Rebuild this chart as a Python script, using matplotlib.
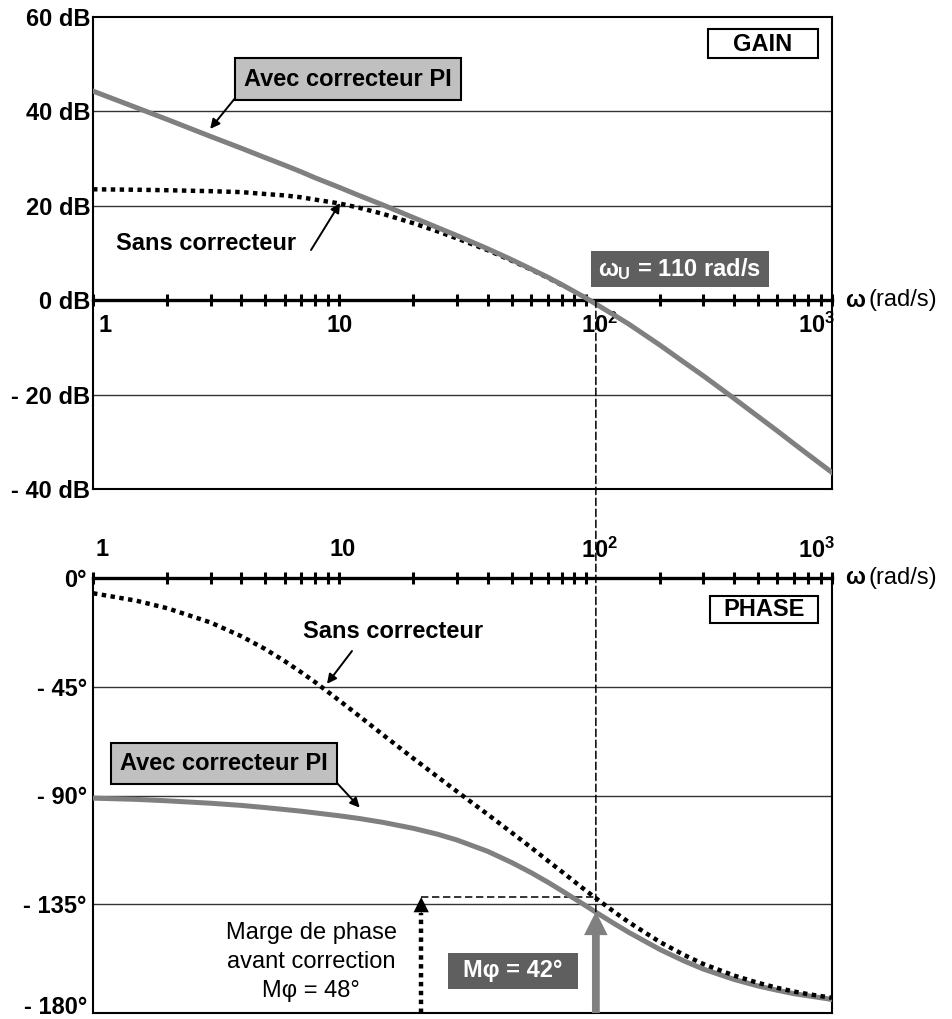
import numpy as np
import matplotlib
matplotlib.use("Agg")
import matplotlib.pyplot as plt
import matplotlib.transforms as mtransforms
from matplotlib.patches import Rectangle, ConnectionPatch
from matplotlib.ticker import FixedLocator, NullFormatter

plt.rcParams['font.family'] = ['Liberation Sans', 'DejaVu Sans']
plt.rcParams['mathtext.fontset'] = 'custom'
plt.rcParams['mathtext.rm'] = 'Liberation Sans:bold'
plt.rcParams['mathtext.it'] = 'Liberation Sans:bold'
plt.rcParams['mathtext.bf'] = 'Liberation Sans:bold'

# ---- data -------------------------------------------------------------
omega = [1, 1.5, 2, 3, 4, 5, 6, 7, 8, 10, 12, 15, 20, 25, 30, 40, 50, 60,
         70, 80, 100, 110, 130, 150, 200, 250, 300, 400, 500, 600, 700,
         800, 1000]

gain_sans = [23.5, 23.4, 23.3, 23.1, 22.9, 22.5, 22.2, 21.8, 21.3, 20.5,
             19.6, 18.3, 16.3, 14.6, 13.1, 10.6, 8.4, 6.5, 4.8, 3.2, 0.4,
             -0.8, -3.1, -5.2, -9.5, -13.1, -16.1, -20.8, -24.6, -27.7,
             -30.4, -32.7, -36.5]

gain_pi = [44.3, 40.8, 38.3, 34.7, 32.2, 30.2, 28.6, 27.2, 25.9, 23.9,
           22.2, 20.2, 17.5, 15.4, 13.7, 10.9, 8.6, 6.6, 4.9, 3.3, 0.5,
           -0.8, -3.1, -5.1, -9.5, -13.1, -16.0, -20.8, -24.6, -27.7,
           -30.4, -32.7, -36.5]

phase_sans = [-6.3, -9.4, -12.5, -18.4, -24.1, -29.4, -34.4, -39.0, -43.2,
              -50.7, -57.0, -64.8, -74.7, -82.2, -88.3, -97.8, -105.3,
              -111.5, -116.9, -121.5, -129.3, -132.5, -138.0, -142.5,
              -150.6, -155.9, -159.7, -164.5, -167.5, -169.6, -171.1,
              -172.2, -173.7]

phase_pi = [-91.1, -91.6, -92.2, -93.2, -94.1, -95.0, -95.8, -96.5, -97.2,
            -98.4, -99.5, -101.1, -103.6, -106.0, -108.4, -113.1, -117.7,
            -121.9, -125.8, -129.4, -135.6, -138.3, -142.9, -146.7, -153.7,
            -158.4, -161.8, -166.1, -168.8, -170.6, -172.0, -172.9, -174.4]

gain_ticks = [60, 40, 20, 0, -20, -40]
gain_labels = ['60 dB', '40 dB', '20 dB', '0 dB', '- 20 dB', '- 40 dB']
phase_ticks = [0, -45, -90, -135, -180]
phase_labels = ['0°', '- 45°', '- 90°', '- 135°', '- 180°']
decades = [1, 10, 100, 1000]
decade_labels = ['1', '10', r'$\mathbf{10^2}$', r'$\mathbf{10^3}$']

omega_u = 110      # rad/s
pm_before = 48     # degrees
pm_after = 42      # degrees
omega_note = 21.5  # abscissa of the "before correction" margin arrow

# ---- style ------------------------------------------------------------
W, H = 952, 1019
FS = 17
GREY = '#808080'
DARK = '#5f5f5f'
LIGHT = '#c0c0c0'
GRID = '#333333'
DOT = (0, (1, 1))
DASH = (0, (4.8, 2.4))
DOT_LW = 3.2

fig = plt.figure(figsize=(W / 100, H / 100), dpi=100)
ax_g = fig.add_axes([93 / W, 1 - 489 / H, 739 / W, 472 / H])
ax_p = fig.add_axes([93 / W, 1 - 1013 / H, 739 / W, 435 / H])

minor = [k * 10 ** d for d in range(3) for k in range(2, 10)]


def fig_box(x0, y0, x1, y1, fc, ec='k', lw=1.5):
    fig.add_artist(Rectangle((x0 / W, 1 - y1 / H), (x1 - x0) / W,
                             (y1 - y0) / H, transform=fig.transFigure,
                             fc=fc, ec=ec, lw=lw, zorder=5))


def fig_text(x, y, s, **kw):
    opts = dict(ha='center', va='center', fontsize=FS, fontweight='bold',
                zorder=6)
    opts.update(kw)
    return fig.text(x / W, 1 - y / H, s, **opts)


def pointer(ax, tip, start_px):
    ax.annotate('', xy=tip, xycoords='data',
                xytext=(start_px[0], H - start_px[1]),
                textcoords='figure pixels',
                arrowprops=dict(arrowstyle='-|>', color='k', lw=1.4,
                                mutation_scale=14, shrinkA=0, shrinkB=0))


def setup_axis(ax, ylim, yt, ylab, pad):
    ax.set_xscale('log')
    ax.set_xlim(1, 1000)
    ax.set_ylim(*ylim)
    ax.xaxis.set_major_locator(FixedLocator(decades))
    ax.xaxis.set_minor_locator(FixedLocator(minor))
    ax.xaxis.set_major_formatter(NullFormatter())
    ax.xaxis.set_minor_formatter(NullFormatter())
    ax.set_yticks(yt)
    ax.set_yticklabels(ylab, fontsize=FS, fontweight='bold')
    ax.tick_params(axis='y', length=0, pad=pad)
    for s in ax.spines.values():
        s.set_linewidth(1.5)
    ax.set_facecolor('white')


# ---- gain plot --------------------------------------------------------
setup_axis(ax_g, (-40, 60), gain_ticks, gain_labels, 2)
ax_g.spines['bottom'].set_position(('data', 0))
ax_g.spines['bottom'].set_linewidth(2.4)
ax_g.tick_params(axis='x', which='both', direction='inout', length=8,
                 width=2.2, bottom=True, top=False)
ax_g.axhline(-40, color='k', lw=1.5, clip_on=False, zorder=2)
for v in [40, 20, -20]:
    ax_g.axhline(v, color=GRID, lw=1.0, zorder=1)

w = np.array(omega)
gs = np.array(gain_sans)
keep = w <= 80
ax_g.plot(w[keep], gs[keep], color='k', lw=DOT_LW, ls=DOT, zorder=3)
ax_g.plot(omega, gain_pi, color=GREY, lw=3.6, zorder=4)

offs_g = [(12, -25, 'center'), (0, -25, 'center'), (-5, -25, 'left'),
          (3, -25, 'right')]
for d, lab, (dx, dy, ha) in zip(decades, decade_labels, offs_g):
    ax_g.annotate(lab, xy=(d, 0), xytext=(dx, dy), textcoords='offset pixels',
                  ha=ha, va='center', fontsize=FS, fontweight='bold')

# ---- phase plot -------------------------------------------------------
setup_axis(ax_p, (-180, 0), phase_ticks, phase_labels, 4.5)
ax_p.xaxis.set_ticks_position('top')
ax_p.spines['top'].set_linewidth(2.4)
ax_p.tick_params(axis='x', which='both', direction='inout', length=8,
                 width=2.2, top=True, bottom=False)
for v in [-45, -90, -135]:
    ax_p.axhline(v, color=GRID, lw=1.0, zorder=1)

# lift the lowest phase label so it stays inside the figure
low_lab = ax_p.get_yticklabels()[-1]
low_lab.set_transform(low_lab.get_transform() +
                      mtransforms.ScaledTranslation(0, 8 / 100,
                                                    fig.dpi_scale_trans))

ax_p.plot(omega, phase_pi, color=GREY, lw=3.6, zorder=3)
ax_p.plot(omega, phase_sans, color='k', lw=DOT_LW, ls=DOT, zorder=4)

offs_p = [(9, 28, 'center'), (3, 28, 'center'), (-5, 28, 'left'),
          (3, 28, 'right')]
for d, lab, (dx, dy, ha) in zip(decades, decade_labels, offs_p):
    ax_p.annotate(lab, xy=(d, 0), xytext=(dx, dy), textcoords='offset pixels',
                  ha=ha, va='center', fontsize=FS, fontweight='bold',
                  annotation_clip=False)

# axis names on the right of each frequency axis
for ax in (ax_g, ax_p):
    ax.annotate('ω', xy=(1, 0), xycoords=('axes fraction', 'data'),
                xytext=(13, 0), textcoords='offset pixels', ha='left',
                va='center', fontsize=FS, fontweight='bold',
                annotation_clip=False)
    ax.annotate('(rad/s)', xy=(1, 0), xycoords=('axes fraction', 'data'),
                xytext=(36, 0), textcoords='offset pixels', ha='left',
                va='center', fontsize=FS, annotation_clip=False)

# ---- phase margin construction ---------------------------------------
level_before = -180 + pm_before
level_after = -180 + pm_after

con = ConnectionPatch(xyA=(omega_u, 0), coordsA='data', axesA=ax_g,
                      xyB=(omega_u, level_after), coordsB='data', axesB=ax_p,
                      color='k', lw=1.1, linestyle=DASH, zorder=2)
fig.add_artist(con)
ax_p.plot([omega_note, omega_u], [level_before, level_before], color='k',
          lw=1.1, ls=DASH, zorder=2)

# margin before correction: dotted shaft + black head
ax_p.plot([omega_note, omega_note], [-180, level_before - 6.5], color='k',
          lw=DOT_LW, ls=DOT, zorder=5, clip_on=False)
ax_p.annotate('', xy=(omega_note, level_before),
              xytext=(omega_note, level_before - 7.5),
              arrowprops=dict(arrowstyle='simple,head_length=1,head_width=1,'
                                         'tail_width=0.05',
                              fc='k', ec='none', mutation_scale=11,
                              shrinkA=0, shrinkB=0), zorder=5)

# margin after correction: grey arrow
ax_p.annotate('', xy=(omega_u, level_after), xytext=(omega_u, -180),
              arrowprops=dict(arrowstyle='simple,head_length=1,head_width=1,'
                                         'tail_width=0.33',
                              fc=GREY, ec='none', mutation_scale=17,
                              shrinkA=0, shrinkB=0),
              zorder=5, annotation_clip=False)

# ---- labels and boxes -------------------------------------------------
fig_box(235, 58, 461, 100, LIGHT)
fig_text(348, 80, 'Avec correcteur PI')
pointer(ax_g, (2.99, 36.3), (236, 97))

fig_text(206, 243, 'Sans correcteur')
pointer(ax_g, (10.07, 20.6), (311, 250))

fig_box(708, 29, 818, 58, 'white')
fig_text(763, 44, 'GAIN')

fig_box(591, 251, 769, 287, DARK, ec='none', lw=0)
fig_text(680, 269, r'$\omega_U$ = 110 rad/s', color='white')

fig_box(710, 596, 818, 623, 'white')
fig_text(764, 610, 'PHASE')

fig_text(393, 631, 'Sans correcteur')
pointer(ax_p, (8.91, -43.8), (352, 651))

fig_box(111, 743, 337, 784, LIGHT)
fig_text(224, 764, 'Avec correcteur PI')
pointer(ax_p, (12.1, -95.0), (337, 783))

fig_text(311, 962, 'Marge de phase\navant correction\nMφ = 48°',
         fontweight='normal', linespacing=1.42)

fig_box(448, 953, 578, 989, DARK, ec='none', lw=0)
fig_text(513, 971, 'Mφ = 42°', color='white')

fig.savefig('out.png', dpi=100)
